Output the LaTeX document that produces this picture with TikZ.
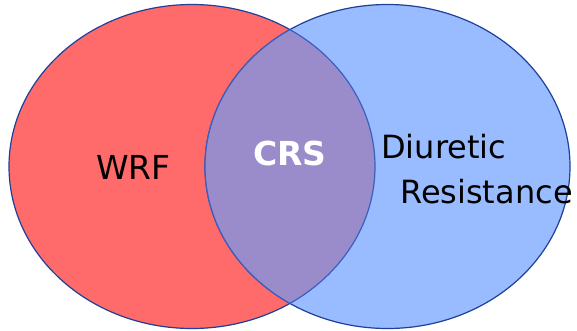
\documentclass[tikz,border=0pt]{standalone}
\usepackage{fontspec}
\setmainfont{DejaVu Sans}
\definecolor{wrfred}{HTML}{FF6B6B}
\definecolor{drblue}{HTML}{99BBFF}
\definecolor{crspurple}{HTML}{9A8CCB}
\definecolor{edgeblue}{HTML}{1F3F99}
\definecolor{inneredge}{HTML}{3A5FC0}
\begin{document}
\begin{tikzpicture}[x=1pt,y=-1pt,
  setedge/.style={draw=edgeblue,line width=1.2pt},
  lbl/.style={inner sep=0pt,anchor=base west,font=\fontsize{32}{38}\selectfont},
  crslbl/.style={inner sep=0pt,anchor=base,text=white,font=\fontsize{33}{40}\selectfont\bfseries}]
\useasboundingbox (0,0) rectangle (577,330);
\path[fill=wrfred,setedge] (192,166.5) ellipse [x radius=183, y radius=162];
\path[fill=drblue,setedge] (387.5,166.5) ellipse [x radius=182.5, y radius=162];
\begin{scope}
  \clip (192,166.5) ellipse [x radius=183, y radius=162];
  \fill[crspurple] (387.5,166.5) ellipse [x radius=182.5, y radius=162];
  \draw[inneredge,line width=1.2pt] (387.5,166.5) ellipse [x radius=182.5, y radius=162];
\end{scope}
\begin{scope}
  \clip (387.5,166.5) ellipse [x radius=182.5, y radius=162];
  \draw[inneredge,line width=1.2pt] (192,166.5) ellipse [x radius=183, y radius=162];
\end{scope}
\node[lbl,font=\fontsize{33}{40}\selectfont] (wrf) at (96,179) {WRF};
\node[crslbl] (crs) at (290,165) {CRS};
\node[lbl] (diu) at (381,158) {Diuretic};
\node[lbl] (res) at (400,203) {Resistance};
\end{tikzpicture}
\end{document}
